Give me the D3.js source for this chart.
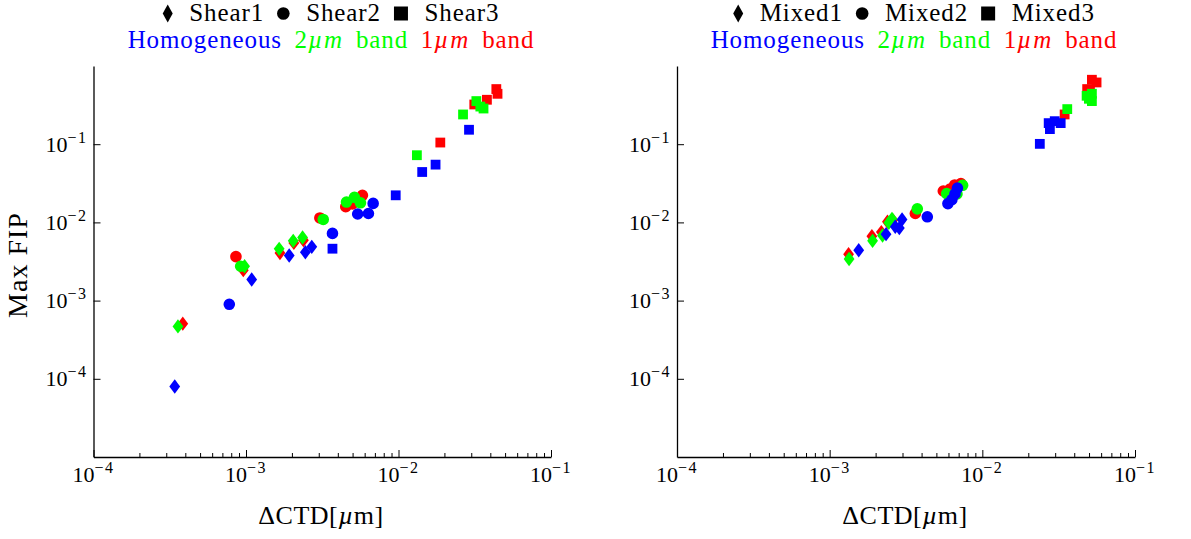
<!DOCTYPE html>
<html>
<head>
<meta charset="utf-8">
<script src="https://cdn.jsdelivr.net/npm/d3@7"></script>
<style>
  body { margin: 0; background: #fff; }
  svg { display: block; }
  text { font-family: "Liberation Serif", "Times New Roman", serif; }
</style>
</head>
<body>
<svg id="chart" width="1191" height="539"></svg>
<script>
// ΔCTD [µm] vs. max FIP, one [ΔCTD, FIP] pair per simulated instantiation.

// Shear loading
const shear1Homog = [[3.41e-4, 7.96e-5], [1.09e-3, 1.86e-3], [1.92e-3, 3.78e-3], [2.45e-3, 4.16e-3], [2.70e-3, 4.87e-3]];
const shear1Band2 = [[3.58e-4, 4.68e-4], [9.79e-4, 2.75e-3], [1.65e-3, 4.59e-3], [2.04e-3, 5.81e-3], [2.35e-3, 6.42e-3]];
const shear1Band1 = [[3.85e-4, 5.07e-4], [9.60e-4, 2.45e-3], [1.67e-3, 4.07e-3], [2.06e-3, 5.47e-3], [2.38e-3, 5.93e-3]];
const shear2Homog = [[7.77e-4, 8.97e-4], [3.69e-3, 7.23e-3], [5.40e-3, 1.28e-2], [6.35e-3, 1.30e-2], [6.82e-3, 1.75e-2]];
const shear2Band2 = [[9.22e-4, 2.75e-3], [3.21e-3, 1.09e-2], [4.56e-3, 1.82e-2], [5.14e-3, 2.09e-2], [5.63e-3, 1.78e-2]];
const shear2Band1 = [[8.59e-4, 3.65e-3], [3.05e-3, 1.14e-2], [4.51e-3, 1.59e-2], [4.99e-3, 1.72e-2], [5.80e-3, 2.22e-2]];
const shear3Homog = [[3.69e-3, 4.61e-3], [9.59e-3, 2.22e-2], [1.43e-2, 4.41e-2], [1.75e-2, 5.48e-2], [2.90e-2, 1.53e-1]];
const shear3Band2 = [[1.32e-2, 7.23e-2], [2.65e-2, 2.40e-1], [3.24e-2, 3.56e-1], [3.44e-2, 3.03e-1], [3.61e-2, 2.86e-1]];
const shear3Band1 = [[1.88e-2, 1.05e-1], [3.14e-2, 3.22e-1], [3.80e-2, 3.70e-1], [4.38e-2, 5.07e-1], [4.46e-2, 4.41e-1]];

// Mixed loading
const mixed1Homog = [[1.55e-3, 4.41e-3], [2.34e-3, 7.08e-3], [2.69e-3, 8.78e-3], [2.86e-3, 8.45e-3], [2.98e-3, 1.09e-2]];
const mixed1Band2 = [[1.34e-3, 3.41e-3], [1.91e-3, 5.81e-3], [2.22e-3, 6.81e-3], [2.44e-3, 9.88e-3], [2.56e-3, 1.11e-2]];
const mixed1Band1 = [[1.33e-3, 3.92e-3], [1.89e-3, 6.67e-3], [2.18e-3, 7.51e-3], [2.39e-3, 1.02e-2], [2.59e-3, 1.07e-2]];
const mixed2Homog = [[4.36e-3, 1.18e-2], [5.95e-3, 1.74e-2], [6.32e-3, 1.96e-2], [6.62e-3, 2.31e-2], [6.87e-3, 2.75e-2]];
const mixed2Band2 = [[3.75e-3, 1.49e-2], [5.84e-3, 2.34e-2], [6.32e-3, 2.11e-2], [6.82e-3, 2.31e-2], [7.43e-3, 2.98e-2]];
const mixed2Band1 = [[3.64e-3, 1.30e-2], [5.55e-3, 2.52e-2], [6.14e-3, 2.67e-2], [6.59e-3, 3.01e-2], [7.24e-3, 3.14e-2]];
const mixed3Homog = [[2.38e-2, 1.01e-1], [2.72e-2, 1.86e-1], [2.77e-2, 1.56e-1], [2.98e-2, 1.97e-1], [3.26e-2, 1.86e-1]];
const mixed3Band2 = [[3.60e-2, 2.81e-1], [4.82e-2, 4.16e-1], [5.22e-2, 4.42e-1], [5.22e-2, 3.56e-1], [4.99e-2, 3.81e-1]];
const mixed3Band1 = [[3.46e-2, 2.40e-1], [4.86e-2, 5.07e-1], [5.22e-2, 6.67e-1], [5.60e-2, 6.16e-1], [5.07e-2, 4.68e-1]];

// Categories
const shearLabels = ["Shear1", "Shear2", "Shear3"];
const mixedLabels = ["Mixed1", "Mixed2", "Mixed3"];
const bandNames = ["Homogeneous", "2µm band", "1µm band"];
const bandColors = ["#0000ff", "#00ff00", "#ff0000"];
const shapeNames = ["diamond", "circle", "square"];

// Axes
const xDomain = [1e-4, 1e-1];
const yDomain = [1e-5, 1e0];
const xTicks = [1e-4, 1e-3, 1e-2, 1e-1];
const yTicks = [1e-4, 1e-3, 1e-2, 1e-1];
const xLabel = ["ΔCTD[", "µ", "m]"];
const yLabel = "Max FIP";

// series[loadIndex][bandIndex]
const shearSeries = [
  [shear1Homog, shear1Band2, shear1Band1],
  [shear2Homog, shear2Band2, shear2Band1],
  [shear3Homog, shear3Band2, shear3Band1]
];
const mixedSeries = [
  [mixed1Homog, mixed1Band2, mixed1Band1],
  [mixed2Homog, mixed2Band2, mixed2Band1],
  [mixed3Homog, mixed3Band2, mixed3Band1]
];

const svg = d3.select("#chart");
const yRange = [457, 66];
const TITLE_FS = 25;
const TITLE_LS = 0.9;

function markerPath(shape) {
  if (shape === "diamond") return "M0,-7.2L5.4,0L0,7.2L-5.4,0Z";
  if (shape === "circle") return d3.symbol(d3.symbolCircle, Math.PI * 5.8 * 5.8)();
  return d3.symbol(d3.symbolSquare, 9.8 * 9.8)();
}

function keyPath(shape) {
  if (shape === "diamond") return "M0,-9L5,0L0,9L-5,0Z";
  if (shape === "circle") return d3.symbol(d3.symbolCircle, Math.PI * 6.3 * 6.3)();
  return d3.symbol(d3.symbolSquare, 14 * 14)();
}

function expLabel(textSel, value, supDy) {
  const e = Math.round(Math.log10(value));
  textSel.append("tspan").text("10");
  textSel.append("tspan")
    .attr("font-size", 16)
    .attr("dy", supDy)
    .attr("letter-spacing", 1.5)
    .text((e < 0 ? "\u2212" : "") + Math.abs(e));
}

// lays out a row of pieces left to right, then centres the row on cx
function titleRow(parent, cx, baseline, pieces) {
  const row = parent.append("g");
  let pos = 0;
  pieces.forEach(p => {
    pos += p.gap || 0;
    if (p.shape) {
      row.append("path")
        .attr("d", keyPath(p.shape))
        .attr("transform", `translate(${pos + p.half},${baseline - 7})`)
        .style("fill", "#000");
      pos += 2 * p.half;
    } else {
      const t = row.append("text")
        .attr("x", pos).attr("y", baseline)
        .attr("font-size", TITLE_FS)
        .attr("letter-spacing", TITLE_LS)
        .style("fill", p.color || "#000");
      p.parts.forEach(([str, italic, extra]) => {
        const s = t.append("tspan").text(str);
        if (italic) s.attr("font-style", "italic");
        if (extra) s.attr("letter-spacing", extra);
      });
      pos += t.node().getComputedTextLength();
    }
  });
  row.attr("transform", `translate(${cx - pos / 2},0)`);
}

function drawPanel(cfg) {
  const x = d3.scaleLog().domain(xDomain).range([cfg.x0, cfg.x1]);
  const y = d3.scaleLog().domain(yDomain).range(yRange);
  const g = svg.append("g");

  // bottom axis with inward ticks
  const minor = [];
  for (let d = -4; d < -1; d++) for (let k = 2; k <= 9; k++) minor.push(k * Math.pow(10, d));
  g.append("g").attr("transform", `translate(0,${yRange[0]})`)
    .call(d3.axisBottom(x).tickValues(minor).tickSize(-4).tickSizeOuter(0).tickFormat(""))
    .call(s => s.select(".domain").remove());
  const xAx = g.append("g").attr("transform", `translate(0,${yRange[0]})`)
    .call(d3.axisBottom(x).tickValues(xTicks).tickSize(-7).tickSizeOuter(0).tickFormat(""));
  xAx.select(".domain").attr("stroke-width", 1.3);

  xTicks.forEach(v => {
    const t = g.append("text")
      .attr("x", x(v)).attr("y", yRange[0] + 25)
      .attr("text-anchor", "middle")
      .attr("font-size", 22)
      .style("fill", "#000");
    expLabel(t, v, -9);
  });

  // left axis with inward ticks
  const yAx = g.append("g").attr("transform", `translate(${cfg.x0},0)`)
    .call(d3.axisLeft(y).tickValues(yTicks).tickSize(-7).tickSizeOuter(0).tickFormat(""));
  yAx.select(".domain").attr("stroke-width", 1.3);

  yTicks.forEach(v => {
    const t = g.append("text")
      .attr("x", cfg.x0 - 6).attr("y", y(v) + 7.5)
      .attr("text-anchor", "end")
      .attr("font-size", 22)
      .style("fill", "#000");
    expLabel(t, v, -9);
  });

  // x-axis title
  const xl = g.append("text")
    .attr("x", cfg.xlabelCx).attr("y", 524)
    .attr("text-anchor", "middle")
    .attr("font-size", 26)
    .attr("letter-spacing", 0.5)
    .style("fill", "#000");
  xl.append("tspan").text(xLabel[0]);
  xl.append("tspan").attr("font-style", "italic").text(xLabel[1]);
  xl.append("tspan").text(xLabel[2]);

  // markers: diamonds, circles, squares; red, then green, then blue on top
  shapeNames.forEach((shape, li) => {
    [2, 1, 0].forEach(bi => {
      g.append("g")
        .selectAll("path")
        .data(cfg.series[li][bi])
        .join("path")
        .attr("d", markerPath(shape))
        .attr("transform", d => `translate(${x(d[0])},${y(d[1])})`)
        .style("fill", bandColors[bi]);
    });
  });

  // title line 1: shape key for the three load cases
  const halves = { diamond: 5, circle: 6.3, square: 7 };
  const row1 = [];
  cfg.loads.forEach((name, i) => {
    row1.push({ shape: shapeNames[i], half: halves[shapeNames[i]], gap: i > 0 ? 13 : 0 });
    row1.push({ parts: [[name]], gap: 16.5 });
  });
  titleRow(g, cfg.titleCx, 20.5, row1);

  // title line 2: colour key for the microstructures
  const row2 = [{ parts: [[bandNames[0]]], color: bandColors[0] }];
  [1, 2].forEach(bi => {
    const m = bandNames[bi].match(/^(\d)(µm) (.*)$/);
    row2.push({ parts: [[m[1]], [m[2], true, 1.8]], color: bandColors[bi], gap: 12.5 });
    row2.push({ parts: [[m[3]]], color: bandColors[bi], gap: 12 });
  });
  titleRow(g, cfg.titleCx, 48.2, row2);

  return g;
}

drawPanel({ x0: 93.5, x1: 551, titleCx: 331, xlabelCx: 321, loads: shearLabels, series: shearSeries });
drawPanel({ x0: 677, x1: 1135, titleCx: 914, xlabelCx: 905, loads: mixedLabels, series: mixedSeries });

// y-axis title (left panel only)
svg.append("text")
  .attr("transform", "translate(27,265) rotate(-90)")
  .attr("text-anchor", "middle")
  .attr("font-size", 28)
  .attr("letter-spacing", 1)
  .style("fill", "#000")
  .text(yLabel);
</script>
</body>
</html>
